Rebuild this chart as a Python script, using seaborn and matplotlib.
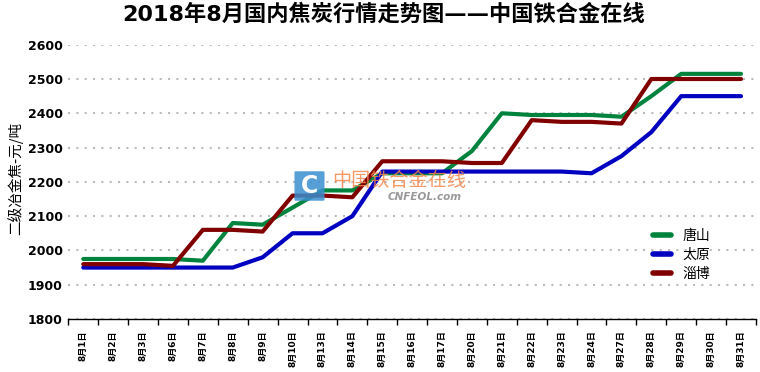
import matplotlib
matplotlib.use('Agg')
import matplotlib.pyplot as plt
import seaborn as sns
import pandas as pd
import numpy as np
from matplotlib.patches import FancyBboxPatch

sns.set_style('white')
plt.rcParams['font.family'] = ['DejaVu Sans', 'Noto Sans CJK SC']
plt.rcParams['text.color'] = 'black'
plt.rcParams['xtick.color'] = 'black'
plt.rcParams['ytick.color'] = 'black'

dates = ['8月1日', '8月2日', '8月3日', '8月6日', '8月7日', '8月8日', '8月9日', '8月10日',
         '8月13日', '8月14日', '8月15日', '8月16日', '8月17日', '8月20日', '8月21日',
         '8月22日', '8月23日', '8月24日', '8月27日', '8月28日', '8月29日', '8月30日', '8月31日']
tangshan = [1975, 1975, 1975, 1975, 1970, 2080, 2075, 2125, 2175, 2175, 2225, 2225,
            2225, 2290, 2400, 2395, 2395, 2395, 2390, 2450, 2515, 2515, 2515]
taiyuan = [1950, 1950, 1950, 1950, 1950, 1950, 1980, 2050, 2050, 2100, 2230, 2230,
           2230, 2230, 2230, 2230, 2230, 2225, 2275, 2345, 2450, 2450, 2450]
zibo = [1960, 1960, 1960, 1955, 2060, 2060, 2055, 2160, 2160, 2155, 2260, 2260,
        2260, 2255, 2255, 2380, 2375, 2375, 2370, 2500, 2500, 2500, 2500]
cities = ['唐山', '太原', '淄博']
colors = ['#00843D', '#0000C0', '#800000']

df = pd.concat([
    pd.DataFrame({'x': np.arange(len(dates)), 'price': vals, 'city': c})
    for c, vals in zip(cities, [tangshan, taiyuan, zibo])
])

fig = plt.figure(figsize=(7.6, 3.72), dpi=100)
ax = fig.add_axes([0.0899, 0.1425, 0.9048, 0.7373])

sns.lineplot(data=df, x='x', y='price', hue='city', palette=colors, linewidth=3,
             ax=ax, legend=True, solid_joinstyle='round', solid_capstyle='round')

ax.set_xlim(-0.5, len(dates) - 0.5)
ax.set_ylim(1800, 2600)
ax.set_yticks(range(1800, 2601, 100))
ax.set_xticks(np.arange(len(dates)))
ax.set_xticklabels(dates, rotation=90, fontsize=6.5, fontweight='bold', va='top')
ax.set_xticks(np.arange(len(dates) + 1) - 0.5, minor=True)
ax.tick_params(axis='x', which='major', length=0, pad=8)
ax.tick_params(axis='x', which='minor', length=4, width=1, color='black', direction='out', bottom=True)
ax.tick_params(axis='y', length=0, pad=4)
for lab in ax.get_yticklabels():
    lab.set_fontweight('bold')
    lab.set_fontsize(9)

ax.yaxis.grid(True, color='#bbbbbb', linestyle=(0, (1, 3)), linewidth=1.5)
ax.xaxis.grid(False)
for s in ['left', 'right', 'top']:
    ax.spines[s].set_visible(False)
ax.spines['bottom'].set_color('black')
ax.spines['bottom'].set_linewidth(1)
ax.set_xlabel('')
ax.set_ylabel('')

fig.text(0.02, 0.52, '二级冶金焦-元/吨', rotation=90, ha='center', va='center',
         fontsize=10.5, family=['Noto Sans CJK SC', 'DejaVu Sans'])
fig.text(0.505, 0.962, '2018年8月国内焦炭行情走势图——中国铁合金在线', ha='center', va='center',
         fontsize=16, fontweight='bold', family=['DejaVu Sans', 'Noto Sans CJK SC'])

leg = ax.legend(loc='center', bbox_to_anchor=(0.897, 0.3145), bbox_transform=fig.transFigure,
                frameon=False, handlelength=1.3, handletextpad=0.8,
                labelspacing=0.35, prop={'family': ['Noto Sans CJK SC'], 'size': 10})
for line in leg.get_lines():
    line.set_linewidth(4)

# watermark
box = FancyBboxPatch((296 / 760, 1 - 200 / 372), 27 / 760, 28 / 372,
                     boxstyle='round,pad=0.002', transform=fig.transFigure,
                     facecolor='#3A8FD0', edgecolor='none', alpha=0.85, zorder=5)
fig.patches.append(box)
fig.text(309.5 / 760, 1 - 186 / 372, 'C', ha='center', va='center', color='white',
         fontsize=17, fontweight='bold', zorder=6)
fig.text(332 / 760, 1 - 180 / 372, '中国铁合金在线', ha='left', va='center', color='#F4874B',
         fontsize=13.8, alpha=0.85, family=['Noto Sans CJK SC'], zorder=6)
fig.text(388 / 760, 1 - 197 / 372, 'CNFEOL.com', ha='left', va='center', color='#999999',
         fontsize=7.5, fontweight='bold', style='italic', zorder=6)

fig.savefig('out.png', dpi=100)
